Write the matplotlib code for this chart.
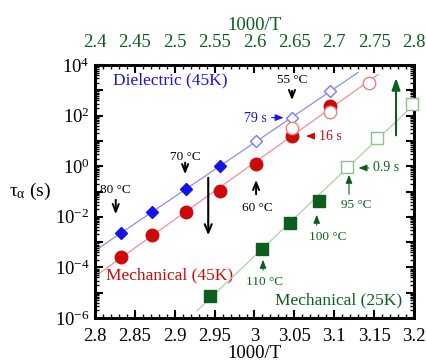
import numpy as np
import matplotlib
matplotlib.use('Agg')
import matplotlib.pyplot as plt
from matplotlib.ticker import FixedLocator, MultipleLocator, LogLocator, NullFormatter

plt.rcParams['font.family'] = ['Liberation Serif', 'DejaVu Serif']
plt.rcParams['mathtext.fontset'] = 'custom'
plt.rcParams['mathtext.rm'] = 'Liberation Serif'
plt.rcParams['mathtext.it'] = 'Liberation Serif:italic'

# dielectric 45K (bottom axis, 1000/T)
diel_x_fill = [2.832, 2.872, 2.914, 2.957]
diel_y_fill = [2.2e-3, 1.6e-2, 0.12, 1.05]
diel_x_open = [3.002, 3.047, 3.095]
diel_y_open = [10.2, 79, 930]

# mechanical 45K (bottom axis)
m45_x_fill = [2.832, 2.872, 2.914, 2.957, 3.002, 3.047, 3.095]
m45_y_fill = [2.6e-4, 1.9e-3, 1.5e-2, 0.107, 1.23, 16, 245]
m45_x_open = [3.047, 3.095, 3.143]
m45_y_open = [31.6, 141, 1900]

# mechanical 25K (top axis)
m25_x_fill = [2.544, 2.610, 2.645, 2.681]
m25_y_fill = [7.6e-6, 5.4e-4, 5.9e-3, 0.044]
m25_x_open = [2.716, 2.754, 2.798]
m25_y_open = [0.9, 12.6, 288]

blue = '#1414e6'
red = '#cc0a0a'
green = '#0d5e1e'

fig = plt.figure(figsize=(4.27, 3.64), dpi=100)
ax = fig.add_axes([0.2225, 0.1264, 0.747, 0.695])
ax2 = ax.twiny()

def fit_line(xs, ys, x0, x1):
    p = np.polyfit(xs, np.log10(ys), 1)
    xx = np.array([x0, x1])
    return xx, 10 ** np.polyval(p, xx)

# fit lines
xx, yy = fit_line(diel_x_fill + diel_x_open, diel_y_fill + diel_y_open, 2.805, 3.13)
ax.plot(xx, yy, color='#8c8cf5', lw=0.9, zorder=1)
xx, yy = fit_line(m45_x_fill + m45_x_open, m45_y_fill + m45_y_open, 2.805, 3.155)
ax.plot(xx, yy, color='#f09090', lw=0.9, zorder=1)
xx, yy = fit_line(m25_x_fill + m25_x_open, m25_y_fill + m25_y_open, 2.528, 2.81)
ax2.plot(xx, yy, color='#a8d4a8', lw=0.9, zorder=1)

# points
ax.plot(diel_x_fill, diel_y_fill, 'D', color=blue, ms=6.5, zorder=3)
ax.plot(diel_x_open, diel_y_open, 'D', mfc='white', mec='#7a7af0', mew=1.0, ms=6.5, zorder=3)
ax.plot(m45_x_fill, m45_y_fill, 'o', color=red, ms=9, zorder=3)
ax.plot(m45_x_open, m45_y_open, 'o', mfc='white', mec='#f08080', mew=1.0, ms=9, zorder=4)
ax2.plot(m25_x_fill, m25_y_fill, 's', color=green, ms=8, zorder=3)
ax2.plot(m25_x_open, m25_y_open, 's', mfc='white', mec='#8cc08c', mew=1.0, ms=9,
         zorder=4, clip_on=False)

# axes setup
ax.set_yscale('log')
ax.set_xlim(2.8, 3.2)
ax2.set_xlim(2.4, 2.8)
ax.set_ylim(1e-6, 1e4)
ax.yaxis.set_major_locator(FixedLocator([10.0 ** k for k in range(-6, 5)]))
ax.set_yticklabels([r'$10^{%d}$' % k if k % 2 == 0 else '' for k in range(-6, 5)])
ax.yaxis.set_minor_locator(LogLocator(base=10, subs=np.arange(2, 10), numticks=20))
ax.yaxis.set_minor_formatter(NullFormatter())
ax.set_xticks([2.8, 2.85, 2.9, 2.95, 3.0, 3.05, 3.1, 3.15, 3.2])
ax.set_xticklabels(['2.8', '2.85', '2.9', '2.95', '3', '3.05', '3.1', '3.15', '3.2'])
ax.xaxis.set_minor_locator(MultipleLocator(0.01))
ax2.set_xticks([2.4, 2.45, 2.5, 2.55, 2.6, 2.65, 2.7, 2.75, 2.8])
ax2.set_xticklabels(['2.4', '2.45', '2.5', '2.55', '2.6', '2.65', '2.7', '2.75', '2.8'])
ax2.xaxis.set_minor_locator(MultipleLocator(0.01))

ax.tick_params(which='major', direction='in', length=6, width=1.5, labelsize=13.5,
               right=True, top=False)
ax.tick_params(axis='x', which='major', pad=7)
ax.tick_params(axis='y', which='major', pad=4)
ax.tick_params(which='minor', direction='in', length=3, width=1.0, right=True, top=False)
ax2.tick_params(which='major', direction='in', length=6, width=1.5, labelsize=13.5,
                labelcolor=green, pad=10)
ax2.tick_params(which='minor', direction='in', length=3, width=1.0)
for a in (ax, ax2):
    for s in a.spines.values():
        s.set_linewidth(2)

ax.set_xlabel('1000/T', fontsize=13.5, labelpad=0)
ax2.set_xlabel('1000/T', fontsize=13.5, color=green, labelpad=3)
ax.set_ylabel('τ$_\\mathrm{α}$ (s)', fontsize=14, rotation=0, labelpad=18, va='center')

# labels
ax.text(2.8226, 10 ** 3.41, 'Dielectric (45K)', color=blue, fontsize=12.5, va='center')
ax.text(2.814, 10 ** -4.30, 'Mechanical (45K)', color=red, fontsize=12.5, va='center')
ax.text(3.026, 10 ** -5.29, 'Mechanical (25K)', color=green, fontsize=12.5, va='center')

blk = dict(arrowstyle='->,head_length=0.55,head_width=0.22', color='black', lw=1.4)
ann = [('80 °C', 2.826, -0.94, -1.22, -2.01),
       ('70 °C', 2.913, 0.35, 0.25, -0.43),
       ('55 °C', 3.047, 3.41, 3.09, 2.50)]
for txt, x, ty, t0, t1 in ann:
    ax.text(x, 10 ** ty, txt, fontsize=9.5, ha='center', va='center')
    ax.annotate('', xy=(x, 10 ** t1), xytext=(x, 10 ** t0), arrowprops=blk)
ax.text(3.004, 10 ** -1.65, '60 °C', fontsize=9.5, ha='center', va='center')
ax.annotate('', xy=(3.002, 10 ** -0.43), xytext=(3.002, 10 ** -1.22), arrowprops=blk)
ax.annotate('', xy=(2.942, 10 ** -2.84), xytext=(2.942, 10 ** -0.35),
            arrowprops=dict(arrowstyle='->,head_length=0.6,head_width=0.25', color='black', lw=1.5))

ax.text(3.015, 10 ** 1.9, '79 s', color=blue, fontsize=10, ha='right', va='center')
ax.annotate('', xy=(3.04, 10 ** 1.92), xytext=(3.018, 10 ** 1.92),
            arrowprops=dict(arrowstyle='-|>,head_length=0.5,head_width=0.2', color=blue, lw=0.8))
ax.text(3.081, 10 ** 1.19, '16 s', color=red, fontsize=10, ha='left', va='center')
ax.annotate('', xy=(3.061, 10 ** 1.19), xytext=(3.079, 10 ** 1.19),
            arrowprops=dict(arrowstyle='-|>,head_length=0.5,head_width=0.2', color=red, lw=0.8))
ax2.text(2.749, 10 ** -0.07, '0.9 s', color=green, fontsize=10, ha='left', va='center')
ax2.annotate('', xy=(2.727, 10 ** -0.07), xytext=(2.747, 10 ** -0.07),
             arrowprops=dict(arrowstyle='-|>,head_length=0.5,head_width=0.2', color=green, lw=0.8))

gar = dict(arrowstyle='-|>,head_length=0.5,head_width=0.2', color=green, lw=0.8)
gann = [('95 °C', 2.7185, 2.727, -1.53, -1.22, -0.23),
        ('100 °C', 2.678, 2.692, -2.80, -2.44, -1.81),
        ('110 °C', 2.6107, 2.613, -4.58, -4.22, -3.59)]
for txt, x, tx, ty, t0, t1 in gann:
    ax2.text(tx, 10 ** ty, txt, color=green, fontsize=9.5, ha='center', va='center')
    ax2.annotate('', xy=(x, 10 ** t1), xytext=(x, 10 ** t0), arrowprops=gar)
ax2.annotate('', xy=(2.7775, 10 ** 3.6), xytext=(2.7775, 10 ** 1.11),
             arrowprops=dict(arrowstyle='-|>,head_length=0.7,head_width=0.25', color=green, lw=1.5))

fig.savefig('out.png', dpi=100)
